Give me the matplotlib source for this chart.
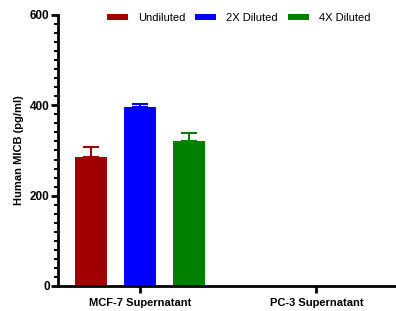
import numpy as np
import matplotlib.pyplot as plt

plt.rcParams['font.family'] = ['Liberation Sans', 'DejaVu Sans']

# data
groups = ['MCF-7 Supernatant', 'PC-3 Supernatant']
series = ['Undiluted', '2X Diluted', '4X Diluted']
colors = ['#a00000', '#0000ff', '#008000']
values = [[286, np.nan], [396, np.nan], [320, np.nan]]
errors = [[22, 0], [8, 0], [18, 0]]

fig = plt.figure(figsize=(3.96, 3.11), dpi=100)
ax = fig.add_axes([0.1465, 0.0804, 0.8535, 0.8714])

x = np.arange(len(groups))
step = 0.277
width = 0.18
for i in range(len(series)):
    pos = x + (i - 1) * step
    ax.errorbar(pos, values[i], yerr=[np.zeros(len(groups)), errors[i]],
                fmt='none', ecolor=colors[i], elinewidth=1.5, capsize=5.8,
                capthick=1.5, zorder=1)
    ax.bar(pos, values[i], width, color=colors[i], label=series[i], zorder=2)

ax.set_xlim(-0.463, 1.45)
ax.set_ylim(0, 600)
ax.set_yticks([0, 200, 400, 600])
ax.set_yticks(np.arange(0, 601, 20), minor=True)
ax.set_xticks(x)
ax.set_xticklabels(groups, fontweight='bold', fontsize=8)
for lab in ax.get_yticklabels():
    lab.set_fontweight('bold')
    lab.set_fontsize(8.5)
ax.set_ylabel('Human MICB (pg/ml)', fontweight='bold', fontsize=8)

ax.spines['top'].set_visible(False)
ax.spines['right'].set_visible(False)
ax.spines['left'].set_linewidth(2)
ax.spines['bottom'].set_linewidth(2)
ax.tick_params(axis='y', which='major', width=2, length=5, pad=1)
ax.tick_params(axis='y', which='minor', width=1.5, length=3)
ax.tick_params(axis='x', which='major', width=2, length=5)

ax.legend(loc='upper center', bbox_to_anchor=(0.534, 1.045), ncol=3, frameon=False,
          fontsize=8, handlelength=1.9, handleheight=0.55, columnspacing=0.9,
          handletextpad=0.9)

fig.savefig('out.png', dpi=100)
